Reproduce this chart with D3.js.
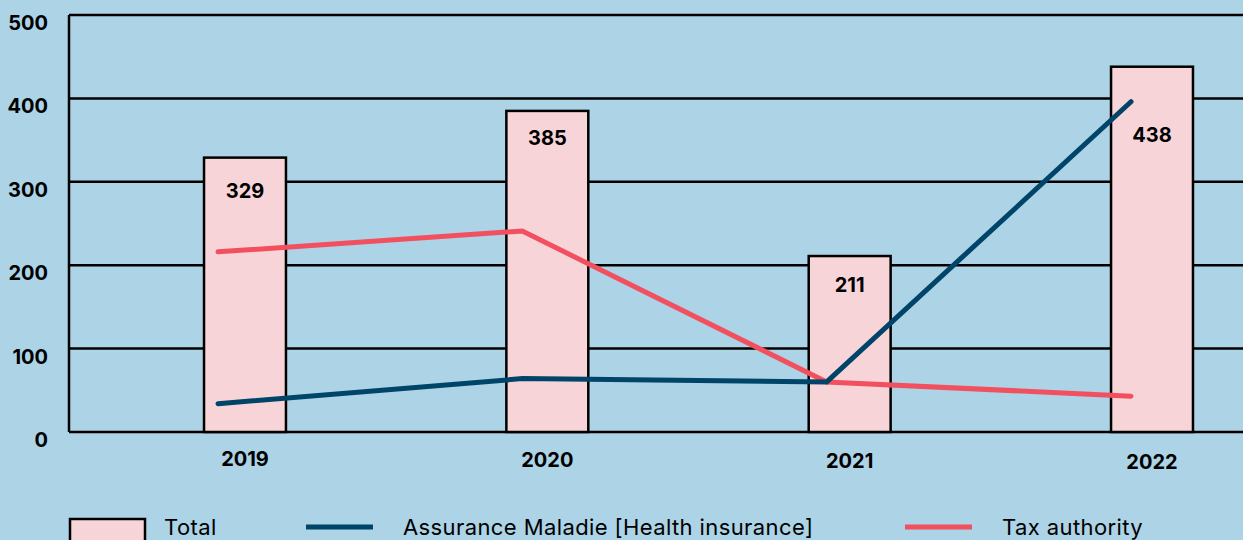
<!DOCTYPE html>
<html>
<head>
<meta charset="utf-8">
<script src="https://cdn.jsdelivr.net/npm/d3@7"></script>
<style>
  html, body { margin: 0; padding: 0; background: #acd3e6; }
  svg { display: block; font-family: Inter, "Open Sans", sans-serif; }
</style>
</head>
<body>
<svg id="chart" width="1243" height="540"></svg>
<script>
// Data
const years = ['2019', '2020', '2021', '2022'];
const totals = [329, 385, 211, 438];
const healthInsurance = [34, 64, 60, 396];
const taxAuthority = [216, 241, 60, 43];
const yTicks = [0, 100, 200, 300, 400, 500];

const legendItems = [
    { label: 'Total', type: 'bar' },
    { label: 'Assurance Maladie [Health insurance]', type: 'line', color: '#00446a' },
    { label: 'Tax authority', type: 'line', color: '#f2505f' }
];

// label offsets below bar top (2022 label pushed down to clear the line)
const labelDrop = [33, 27, 29, 68];

const svg = d3.select('#chart');
const width = 1243;
const plotLeft = 69, plotTop = 15, plotBottom = 432;

const y = d3.scaleLinear().domain([0, 500]).range([plotBottom, plotTop]);

const x = d3.scaleBand()
    .domain(years)
    .range([plotLeft, 1328])
    .paddingInner(0.729)
    .paddingOuter(0.4466);

// line points sit slightly left of the bar centers
const xLine = d3.scalePoint()
    .domain(years)
    .range([218, 1131]);

// Gridlines
svg.append('g')
    .selectAll('line')
    .data(yTicks)
    .enter().append('line')
    .attr('x1', plotLeft)
    .attr('x2', width)
    .attr('y1', d => y(d))
    .attr('y2', d => y(d))
    .attr('stroke', '#000')
    .attr('stroke-width', 2.5);

// Y axis line
svg.append('line')
    .attr('x1', plotLeft).attr('x2', plotLeft)
    .attr('y1', y(500)).attr('y2', y(0))
    .attr('stroke', '#000')
    .attr('stroke-width', 2.5);

// Y tick labels
svg.append('g')
    .selectAll('text')
    .data(yTicks)
    .enter().append('text')
    .attr('x', 48)
    .attr('y', d => y(d) + 8)
    .attr('dy', '0.35em')
    .attr('text-anchor', 'end')
    .attr('font-size', 20)
    .attr('font-weight', 700)
    .attr('fill', '#000')
    .text(d => d);

// Bars
svg.append('g')
    .selectAll('rect')
    .data(years)
    .enter().append('rect')
    .attr('x', d => x(d))
    .attr('y', (d, i) => y(totals[i]))
    .attr('width', x.bandwidth())
    .attr('height', (d, i) => y(0) - y(totals[i]))
    .attr('fill', '#f7d4d8')
    .attr('stroke', '#000')
    .attr('stroke-width', 2.5);

// X labels
svg.append('g')
    .selectAll('text')
    .data(years)
    .enter().append('text')
    .attr('x', d => x(d) + x.bandwidth() / 2)
    .attr('y', (d, i) => 459 + i)
    .attr('dy', '0.35em')
    .attr('text-anchor', 'middle')
    .attr('font-size', 20)
    .attr('font-weight', 700)
    .attr('fill', '#000')
    .text(d => d);

// Lines
const line = d3.line()
    .x(d => xLine(d.year))
    .y(d => y(d.value));

[[taxAuthority, '#f2505f'], [healthInsurance, '#00446a']].forEach(([vals, color]) => {
    svg.append('path')
        .datum(years.map((yr, i) => ({ year: yr, value: vals[i] })))
        .attr('fill', 'none')
        .attr('stroke', color)
        .attr('stroke-width', 5)
        .attr('stroke-linecap', 'round')
        .attr('d', line);
});

// Bar value labels
svg.append('g')
    .selectAll('text')
    .data(years)
    .enter().append('text')
    .attr('x', d => x(d) + x.bandwidth() / 2)
    .attr('y', (d, i) => y(totals[i]) + labelDrop[i])
    .attr('dy', '0.35em')
    .attr('text-anchor', 'middle')
    .attr('font-size', 20)
    .attr('font-weight', 700)
    .attr('fill', '#000')
    .text((d, i) => totals[i]);

// Legend
const legendX = [70, 306, 905];
const legend = svg.append('g');
legendItems.forEach((item, i) => {
    const g = legend.append('g').attr('transform', `translate(${legendX[i]},527)`);
    if (item.type === 'bar') {
        g.append('rect')
            .attr('x', 0).attr('y', -8)
            .attr('width', 75).attr('height', 24)
            .attr('fill', '#f7d4d8')
            .attr('stroke', '#000')
            .attr('stroke-width', 2.5);
    } else {
        g.append('line')
            .attr('x1', 0).attr('x2', 67)
            .attr('y1', 0).attr('y2', 0)
            .attr('stroke', item.color)
            .attr('stroke-width', 5);
    }
    g.append('text')
        .attr('x', i === 0 ? 94 : 97)
        .attr('y', 0)
        .attr('dy', '0.35em')
        .attr('font-size', 22)
        .attr('letter-spacing', 0.4)
        .attr('fill', '#000')
        .text(item.label);
});
</script>
</body>
</html>
